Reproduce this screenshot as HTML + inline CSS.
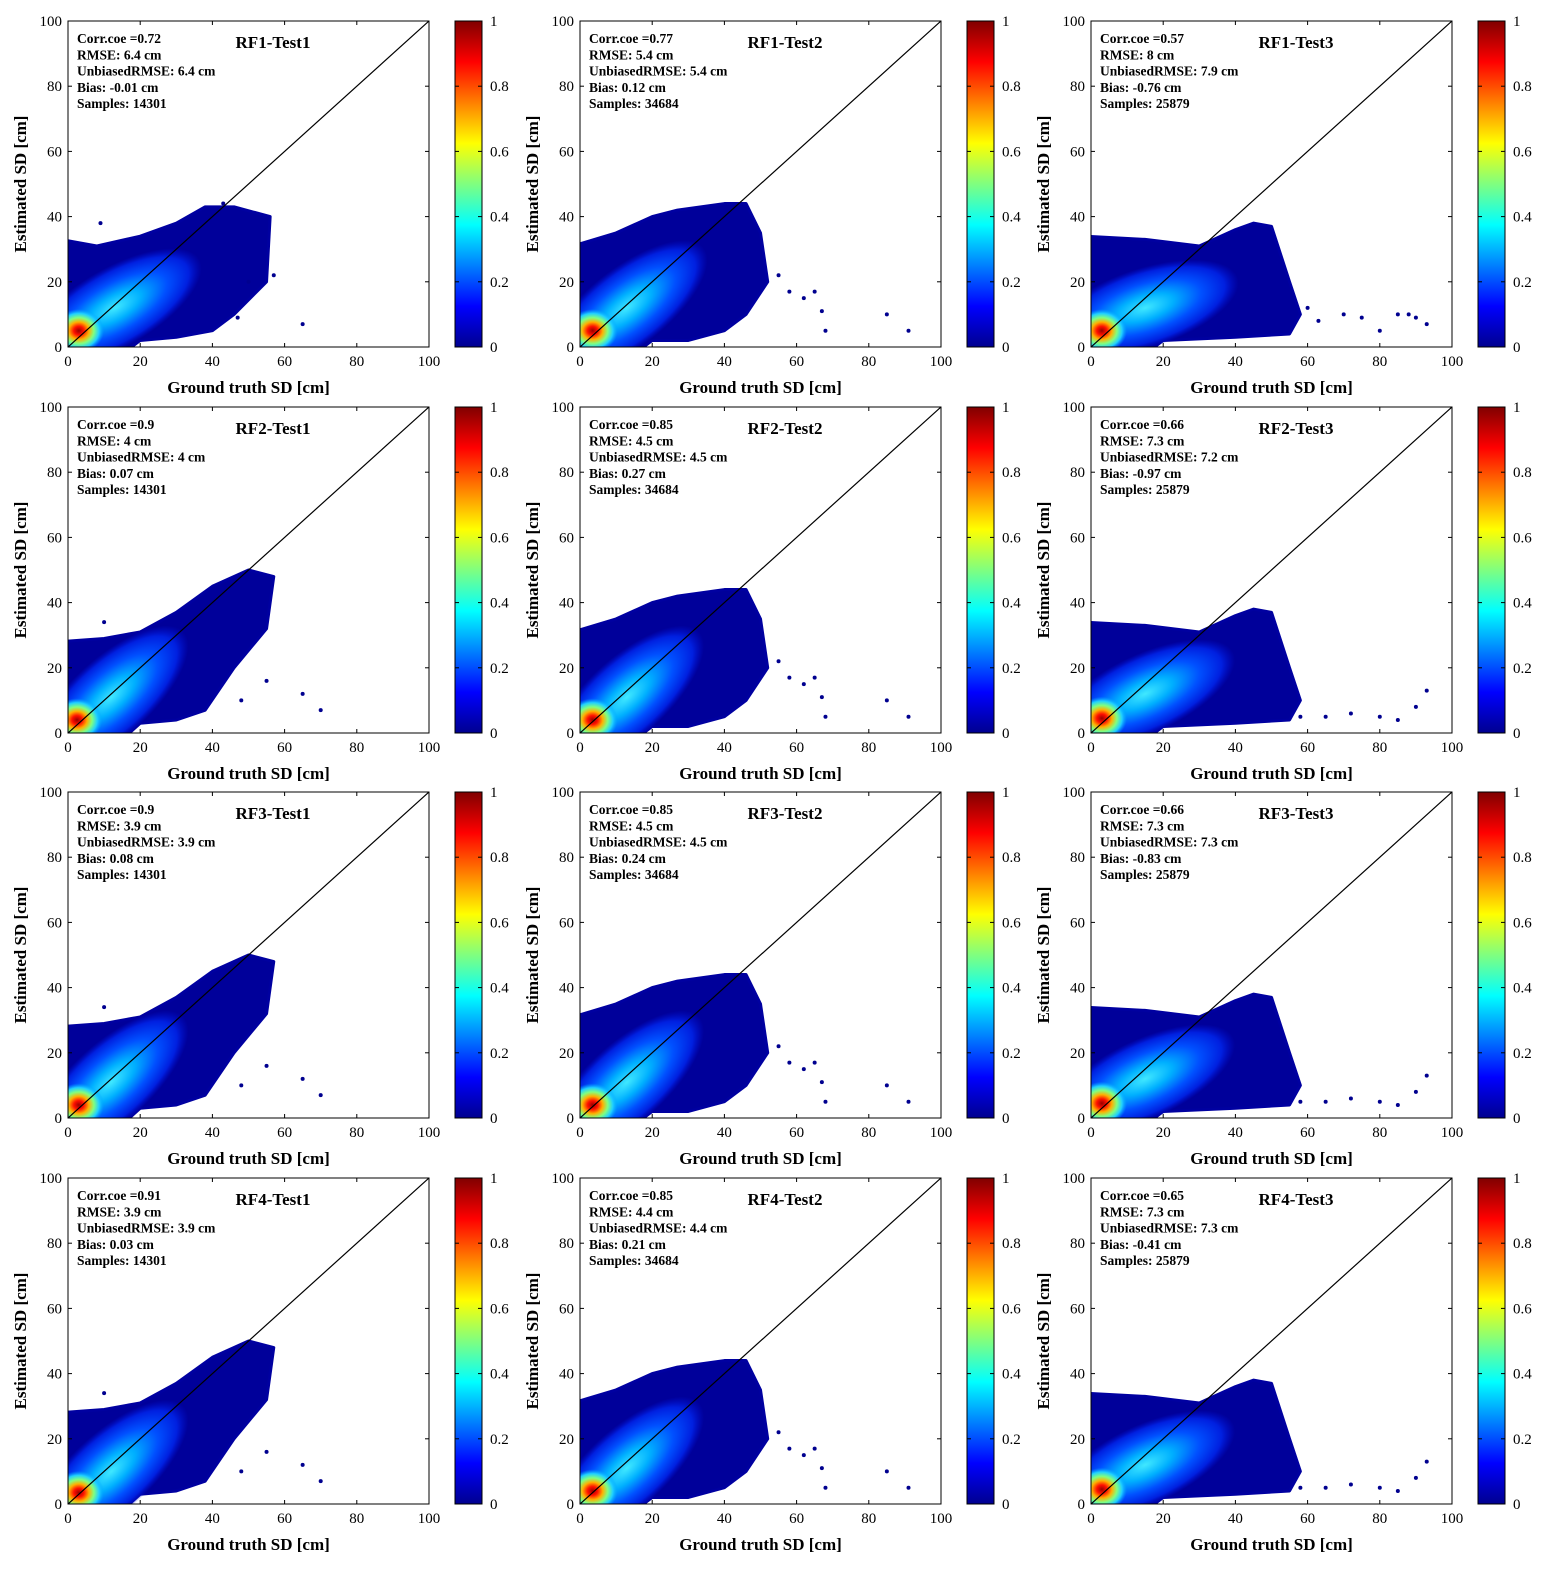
<!DOCTYPE html>
<html><head><meta charset="utf-8"><style>
body{margin:0;background:#fff}
svg text{font-family:"Liberation Serif",serif}
</style></head><body>
<svg id="fig" xmlns="http://www.w3.org/2000/svg" width="1555" height="1578" viewBox="0 0 1555 1578">
<defs>
<linearGradient id="jet" x1="0" y1="1" x2="0" y2="0">
<stop offset="0" stop-color="#00008f"/><stop offset="0.125" stop-color="#0000ff"/><stop offset="0.375" stop-color="#00ffff"/><stop offset="0.625" stop-color="#ffff00"/><stop offset="0.875" stop-color="#ff0000"/><stop offset="1" stop-color="#800000"/>
</linearGradient>
<radialGradient id="cloud"><stop offset="0" stop-color="#40e8ff"/><stop offset="0.3" stop-color="#00b0ff"/><stop offset="0.6" stop-color="#0050ff"/><stop offset="0.85" stop-color="#0020e0"/><stop offset="1" stop-color="#0010d0" stop-opacity="0"/></radialGradient>
<radialGradient id="heat"><stop offset="0" stop-color="#9a0000"/><stop offset="0.2" stop-color="#ff1000"/><stop offset="0.4" stop-color="#ffb000"/><stop offset="0.6" stop-color="#80ff80"/><stop offset="0.8" stop-color="#20d0ff"/><stop offset="1" stop-color="#00a0ff" stop-opacity="0"/></radialGradient>
</defs>
</svg>
<script>
const titles=["RF1-Test1","RF1-Test2","RF1-Test3","RF2-Test1","RF2-Test2","RF2-Test3","RF3-Test1","RF3-Test2","RF3-Test3","RF4-Test1","RF4-Test2","RF4-Test3"];
const corr=["0.72","0.77","0.57","0.9","0.85","0.66","0.9","0.85","0.66","0.91","0.85","0.65"];
const rmse=["6.4","5.4","8","4","4.5","7.3","3.9","4.5","7.3","3.9","4.4","7.3"];
const urmse=["6.4","5.4","7.9","4","4.5","7.2","3.9","4.5","7.3","3.9","4.4","7.3"];
const bias=["-0.01","0.12","-0.76","0.07","0.27","-0.97","0.08","0.24","-0.83","0.03","0.21","-0.41"];
const samples=["14301","34684","25879","14301","34684","25879","14301","34684","25879","14301","34684","25879"];
const env1a=[[-2,-3],[-2,33],[8,31],[20,34],[30,38],[38,43],[46,43],[56,40],[55,20],[46,10],[40,5],[30,3],[20,2],[14,-3]];
const env1b=[[-2,-3],[-2,28],[10,29],[20,31],[30,37],[40,45],[50,50],[57,48],[55,32],[46,20],[38,7],[30,4],[20,3],[14,-3]];
const env2=[[-2,-3],[-2,31],[10,35],[20,40],[27,42],[40,44],[46,44],[50,35],[52,20],[46,10],[40,5],[30,2],[20,2],[14,-3]];
const env3=[[-2,-3],[-2,34],[15,33],[30,31],[40,36],[45,38],[50,37],[55,20],[58,10],[55,4],[40,3],[20,2],[14,-3]];
const envelopes=[env1a,env2,env3,env1b,env2,env3,env1b,env2,env3,env1b,env2,env3];
const outT1a=[[65,7],[43,44],[57,22],[50,20],[47,9],[9,38]];
const outT1b=[[65,12],[70,7],[55,16],[48,10],[10,34]];
const outT2=[[58,17],[62,15],[65,17],[67,11],[68,5],[85,10],[91,5],[55,22]];
const outT3a=[[60,12],[63,8],[70,10],[75,9],[80,5],[85,10],[88,10],[90,9],[93,7]];
const outT3b=[[58,5],[65,5],[72,6],[80,5],[85,4],[90,8],[93,13]];
const outliers=[outT1a,outT2,outT3a,outT1b,outT2,outT3b,outT1b,outT2,outT3b,outT1b,outT2,outT3b];
const cloudCX=[13,13,15,12,13,15,12,13,15,12,13,15];
const cloudCY=[12,12,12,11,11,12,11,11,12,10,11,12];
const cloudAng=[30,38,18,42,42,25,42,42,25,42,42,25];
const hotX=[3,3.5,3,2.5,3.5,3,3,3.5,3,3,3.5,3];
const hotY=[5,5,5,4,4,4.5,4,4,4.5,3.5,4,4.5];
const ticks=[0,20,40,60,80,100];
const cbTicks=["0","0.2","0.4","0.6","0.8","1"];

const NS="http://www.w3.org/2000/svg";
const svg=document.getElementById('fig');
const colX=[68,580,1091], rowY=[21,407,792,1178], W=361, H=326;
function mk(tag,attrs,parent){const e=document.createElementNS(NS,tag);for(const k in attrs)e.setAttribute(k,attrs[k]);(parent||svg).appendChild(e);return e;}
function txt(x,y,s,attrs,parent){const t=mk('text',Object.assign({x:x,y:y},attrs),parent);t.textContent=s;return t;}

titles.forEach((title,i)=>{
  const x0=colX[i%3], y0=rowY[Math.floor(i/3)];
  const sx=v=>x0+v/100*W, sy=v=>y0+H-v/100*H;
  const g=mk('g',{});
  
  
  const cid='clip'+i;
  const cp=mk('clipPath',{id:cid},g);mk('rect',{x:x0,y:y0,width:W,height:H},cp);
  const pg=mk('g',{'clip-path':'url(#'+cid+')'},g);
  const env=mk('polygon',{points:envelopes[i].map(p=>sx(p[0])+','+sy(p[1])).join(' '),fill:'#00009a',stroke:'#0000a0','stroke-width':3,'stroke-linejoin':'round'},pg);
  
  
  const cx=sx(cloudCX[i]), cy=sy(cloudCY[i]);
  const cl=mk('ellipse',{cx:cx,cy:cy,rx:sx(27)-x0,ry:sx(11)-x0,fill:'url(#cloud)',transform:'rotate('+(-cloudAng[i])+' '+cx+' '+cy+')'},pg);
  
  
  const hx=sx(hotX[i]), hy=sy(hotY[i]);
  const hot=mk('ellipse',{cx:hx,cy:hy,rx:sx(7)-x0,ry:sx(6)-x0,fill:'url(#heat)'},pg);
  
  
  outliers[i].forEach(p=>{
    const c=mk('circle',{cx:sx(p[0]),cy:sy(p[1]),r:2,fill:'#00008f'},pg);
    
    
  });
  const ol=mk('line',{x1:sx(0),y1:sy(0),x2:sx(100),y2:sy(100),stroke:'#000','stroke-width':1.2},pg);
  
  
  const box=mk('rect',{x:x0,y:y0,width:W,height:H,fill:'none',stroke:'#000','stroke-width':1},g);
  
  
  ticks.forEach(t=>{
    mk('line',{x1:sx(t),y1:y0+H,x2:sx(t),y2:y0+H-4,stroke:'#000'},g);
    mk('line',{x1:sx(t),y1:y0,x2:sx(t),y2:y0+4,stroke:'#000'},g);
    mk('line',{x1:x0,y1:sy(t),x2:x0+4,y2:sy(t),stroke:'#000'},g);
    mk('line',{x1:x0+W,y1:sy(t),x2:x0+W-4,y2:sy(t),stroke:'#000'},g);
    const xt=txt(sx(t),y0+H+19,String(t),{'font-size':15,'text-anchor':'middle'},g);
    
    
    const yt=txt(x0-6,sy(t)+5,String(t),{'font-size':15,'text-anchor':'end'},g);
    
    
  });
  const xl=txt(x0+W/2,y0+H+46,'Ground truth SD [cm]',{'font-size':17,'font-weight':'bold','text-anchor':'middle'},g);
  
  
  const yl=txt(0,0,'Estimated SD [cm]',{'font-size':17,'font-weight':'bold','text-anchor':'middle',transform:'translate('+(x0-42)+','+(y0+H/2)+') rotate(-90)'},g);
  
  
  const tt=txt(x0+205,y0+27,title,{'font-size':17,'font-weight':'bold','text-anchor':'middle'},g);
  
  
  const lines=['Corr.coe ='+corr[i],'RMSE: '+rmse[i]+' cm','UnbiasedRMSE: '+urmse[i]+' cm','Bias: '+bias[i]+' cm','Samples: '+samples[i]];
  lines.forEach((s,k)=>{
    const st=txt(x0+9,y0+22+k*16.3,s,{'font-size':13.5,'font-weight':'bold'},g);
    
    
  });
  const cbx=x0+387;
  const cb=mk('rect',{x:cbx,y:y0,width:27,height:H,fill:'url(#jet)',stroke:'#000','stroke-width':1},g);
  
  
  cbTicks.forEach((s,k)=>{
    const yy=y0+H-k*0.2*H;
    mk('line',{x1:cbx,y1:yy,x2:cbx+4,y2:yy,stroke:'#000'},g);
    mk('line',{x1:cbx+27,y1:yy,x2:cbx+23,y2:yy,stroke:'#000'},g);
    const ct=txt(cbx+35,yy+5,s,{'font-size':15},g);
    
    
  });
});
</script>
</body></html>
